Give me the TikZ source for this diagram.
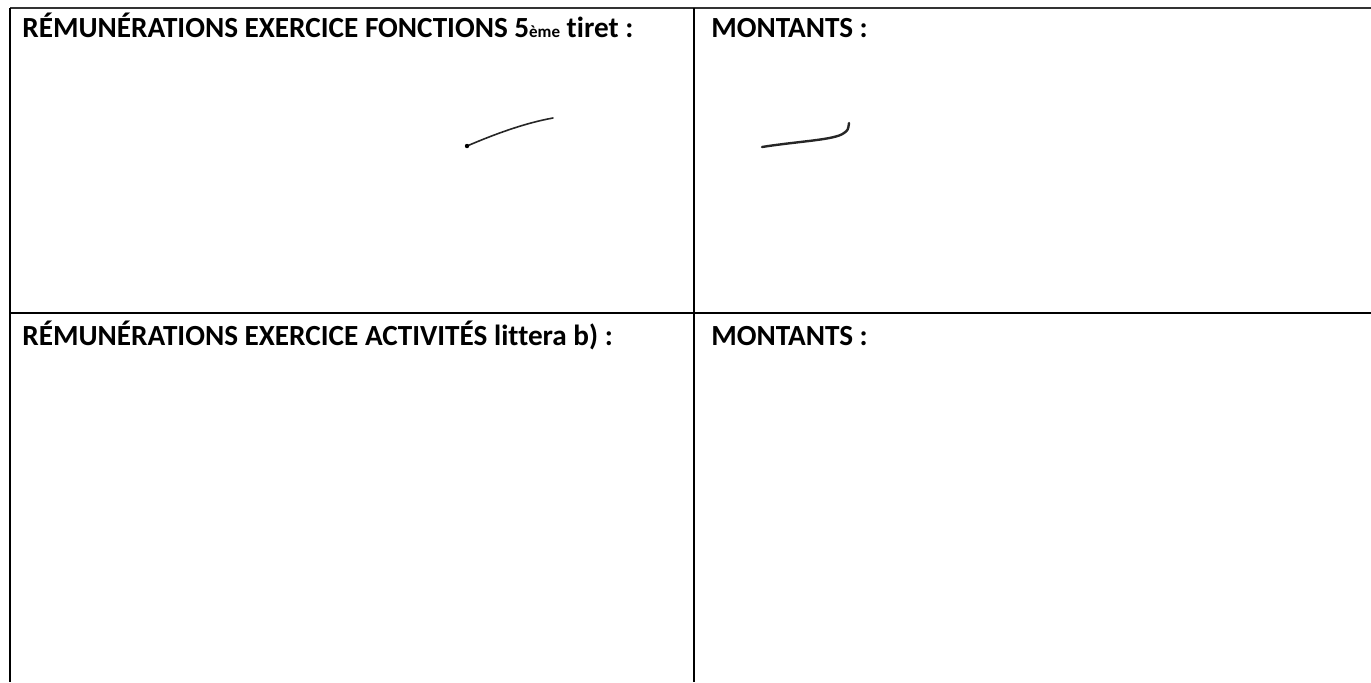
\documentclass[tikz,border=0pt]{standalone}
\usepackage{fontspec}
\setmainfont[Ligatures=NoCommon]{Carlito}
\begin{document}
\begin{tikzpicture}[x=0.5pt,y=-0.5pt]
\tikzset{
  rule/.style={draw=black,line width=1.1pt},
  thinrule/.style={draw=black!80,line width=0.7pt},
  hdr/.style={anchor=base west,inner sep=0pt,font=\bfseries\fontsize{14.6pt}{17pt}\selectfont},
  scribble/.style={draw=black!85,line width=0.8pt,line cap=round}
}
\useasboundingbox (0,0) rectangle (1371,682);
% grid coordinates
\coordinate (tl) at (10,8);
\coordinate (tm) at (694,8);
\coordinate (tr) at (1371,8);
\coordinate (ml) at (10,313);
\coordinate (mm) at (694,313);
\coordinate (mr) at (1371,313);
\coordinate (bl) at (10,682);
\coordinate (bm) at (694,682);
\draw[thinrule] (tl) -- (tr);
\draw[rule] (tl) -- (bl);
\draw[rule] (tm) -- (bm);
\draw[rule] (ml) -- (mr);
% headers
\node[hdr] (h1) at (22,37) {RÉMUNÉRATIONS EXERCICE FONCTIONS 5{\fontsize{8.5pt}{9pt}\selectfont ème} tiret :};
\node[hdr] (h2) at (711,37) {MONTANTS :};
\node[hdr] (h3) at (22,345) {RÉMUNÉRATIONS EXERCICE ACTIVITÉS littera b) :};
\node[hdr] (h4) at (711,345) {MONTANTS :};
% scribbles
\coordinate (s1a) at (467,146);
\coordinate (s1b) at (553,118);
\draw[scribble] (s1a) .. controls (495,134) and (525,123) .. (s1b);
\fill[black] (s1a) circle (2.2);
\coordinate (s2a) at (762,147);
\coordinate (s2b) at (849,123);
\draw[scribble,line width=1.2pt] (s2a) .. controls (800,141) and (835,140) .. (844,133) .. controls (848,130) .. (s2b);
\end{tikzpicture}
\end{document}
